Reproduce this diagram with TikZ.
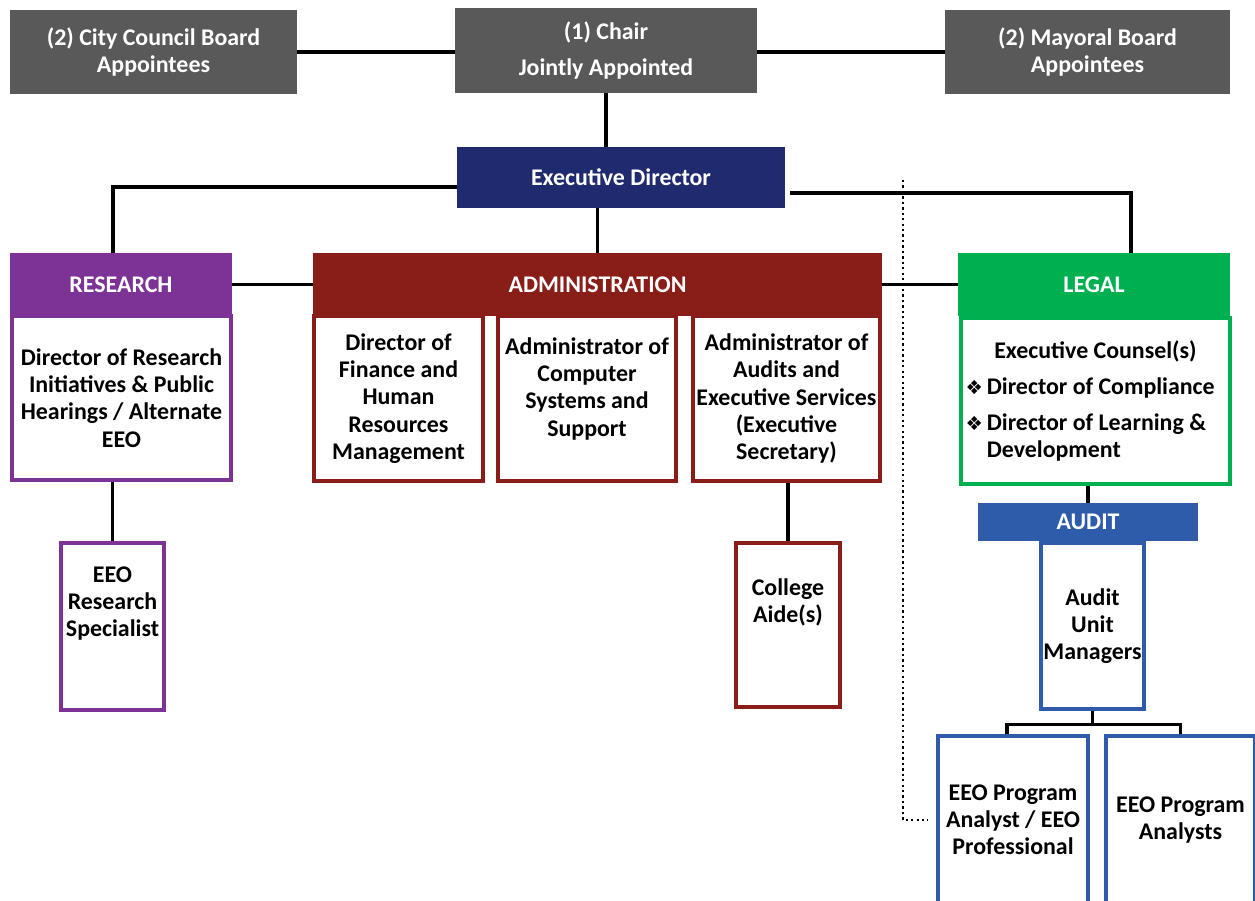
\documentclass[tikz,border=0pt]{standalone}
\usepackage{fontspec}
\setmainfont{Carlito}
\newfontfamily\symfont{DejaVu Sans}
\usepackage{xcolor}
\usepackage{tikz}
\usetikzlibrary{positioning, calc}
\definecolor{boardgray}{RGB}{89,89,89}
\definecolor{execnavy}{RGB}{31,43,110}
\definecolor{respurple}{RGB}{125,50,150}
\definecolor{adminred}{RGB}{137,29,23}
\definecolor{legalgreen}{RGB}{0,176,80}
\definecolor{auditblue}{RGB}{46,92,170}
\tikzset{
    head/.style={
        rectangle, minimum height=1.26cm, align=center, text=white,
        font=\fontsize{13.6}{15.5}\selectfont\bfseries, inner sep=1pt
    },
    head_gray/.style={head, fill=boardgray, minimum height=1.68cm},
    head_navy/.style={head, fill=execnavy, minimum height=1.22cm},
    head_purple/.style={head, fill=respurple},
    head_red/.style={head, fill=adminred},
    head_green/.style={head, fill=legalgreen},
    head_blue/.style={head, fill=auditblue, minimum height=0.76cm},
    unit/.style={
        rectangle, line width=2pt, fill=white, align=center, inner sep=1pt,
        font=\fontsize{13.6}{15.5}\selectfont\bfseries
    },
    unit_purple/.style={unit, draw=respurple},
    unit_red/.style={unit, draw=adminred},
    unit_green/.style={unit, draw=legalgreen},
    unit_blue/.style={unit, draw=auditblue},
    link/.style={line width=2pt, draw=black},
    dotline/.style={line width=1.5pt, dash pattern=on 1.3pt off 1.8pt, draw=black}
}
\newcommand{\diamondbullet}{{\symfont\fontsize{11}{15}\selectfont ❖}\,}

\begin{document}
\begin{tikzpicture}[x=0.02cm, y=-0.02cm]
    \useasboundingbox (0,0) rectangle (1255,901);

    % Board
    \node[head_gray, minimum width=5.74cm] (council) at (153.5, 52) {(2) City Council Board\\Appointees};
    \node[head_gray, minimum width=6.04cm, minimum height=1.70cm] (chair) at (606, 50.5) {(1) Chair\\[5pt]Jointly Appointed};
    \node[head_gray, minimum width=5.70cm] (mayor) at (1087.5, 52) {(2) Mayoral Board\\Appointees};
    \node[head_navy, minimum width=6.56cm] (exec) at (621, 177.5) {Executive Director};

    % Divisions
    \node[head_purple, minimum width=4.44cm] (reshead) at (121, 284.5) {RESEARCH};
    \node[head_red, minimum width=11.38cm] (adminhead) at (597.5, 284.5) {ADMINISTRATION};
    \node[head_green, minimum width=5.44cm] (legalhead) at (1094, 284.5) {LEGAL};

    % Research
    \node[unit_purple, minimum width=4.38cm, minimum height=3.28cm] (resbody) at (121.5, 398) {Director of Research\\Initiatives \& Public\\Hearings / Alternate\\EEO};
    \node[unit_purple, minimum width=2.06cm, minimum height=3.34cm] (specialist) at (112.5, 626.5) {EEO\\Research\\Specialist\\[8pt]\strut};

    % Administration
    \node[unit_red, minimum width=3.38cm, minimum height=3.30cm] (finance) at (398.5, 398.5) {Director of\\Finance and\\Human\\Resources\\Management};
    \node[unit_red, minimum width=3.56cm, minimum height=3.30cm] (computer) at (587, 398.5) {Administrator of\\Computer\\Systems and\\Support\\[-7pt]\strut};
    \node[unit_red, minimum width=3.74cm, minimum height=3.30cm] (auditsvc) at (786.5, 398.5) {Administrator of\\Audits and\\Executive Services\\(Executive\\Secretary)};
    \node[unit_red, minimum width=2.08cm, minimum height=3.28cm] (aides) at (788, 625) {College\\Aide(s)\\[8pt]\strut};

    % Legal and audit
    \node[unit_green, minimum width=5.38cm, minimum height=3.32cm, text width=5.2cm, align=flush left] (legalbody) at (1095.5, 401)
        {\makebox[\linewidth][c]{Executive Counsel(s)}\\[5pt]
         \diamondbullet Director of Compliance\\[5pt]
         \diamondbullet Director of Learning \&\\
         \phantom{\diamondbullet}Development};
    \node[head_blue, minimum width=4.40cm] (audithead) at (1088, 522) {AUDIT};
    \node[unit_blue, minimum width=2.06cm, minimum height=3.32cm] (auditmgrs) at (1092.5, 626) {Audit\\Unit\\Managers};
    \node[unit_blue, minimum width=3.00cm, minimum height=3.36cm] (eeoprof) at (1013, 820) {EEO Program\\Analyst / EEO\\Professional};
    \node[unit_blue, minimum width=2.98cm, minimum height=3.36cm] (analysts) at (1180.5, 820) {EEO Program\\Analysts};

    \coordinate (dtop) at (903, 180);

    \draw[link] (council.east) -- (council.east -| chair.west);
    \draw[link] (mayor.west -| chair.east) -- (mayor.west);
    \draw[link] (chair.south) -- (chair.south |- exec.north);
    \draw[link] ([yshift=-0.19cm]exec.west) -| ([xshift=-0.16cm]reshead.north);
    \draw[link] (exec.south -| adminhead.north) -- (adminhead.north);
    \draw[link] ([xshift=0.1cm, yshift=-0.31cm]exec.east) -| ([xshift=0.74cm]legalhead.north);
    \draw[link] (reshead.east) -- (adminhead.west);
    \draw[link] (adminhead.east) -- (legalhead.west);
    \draw[link] (specialist.north |- resbody.south) -- (specialist.north);
    \draw[link] (aides.north |- auditsvc.south) -- (aides.north);
    \draw[link] (audithead.north |- legalbody.south) -- (audithead.north);
    \draw[link] (auditmgrs.south) -- ++(0,14) -| ([xshift=-0.12cm]eeoprof.north);
    \draw[link] (auditmgrs.south) ++(0,14) -| (analysts.north);
    \draw[dotline] (dtop) |- ([xshift=-0.16cm]eeoprof.west);
\end{tikzpicture}
\end{document}
